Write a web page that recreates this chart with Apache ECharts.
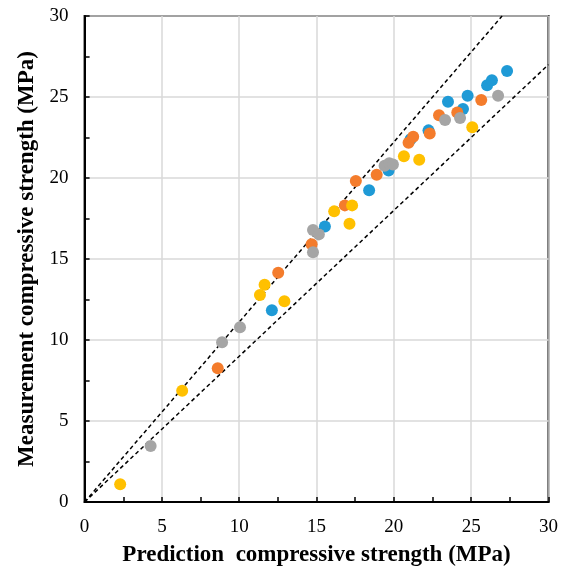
<!DOCTYPE html>
<html>
<head>
<meta charset="utf-8">
<script src="https://cdn.jsdelivr.net/npm/echarts@6/dist/echarts.min.js"></script>
<style>
html,body{margin:0;padding:0;background:#fff;}
#chart{width:561px;height:574px;}
</style>
</head>
<body>
<div id="chart"></div>
<script>
// Data (prediction, measurement) per series
const seriesBlue = [[12.11,11.83],[15.54,17.0],[18.40,19.24],[19.66,20.47],[21.08,22.39],[22.24,22.94],[23.50,24.71],[24.47,24.26],[24.77,25.08],[26.03,25.72],[26.34,26.03],[27.32,26.60]];
const seriesOrange = [[8.61,8.25],[12.52,14.15],[14.68,15.91],[16.83,18.31],[17.54,19.81],[18.89,20.20],[20.95,22.18],[21.25,22.55],[22.32,22.74],[22.92,23.87],[24.10,24.05],[25.65,24.81]];
const seriesGray = [[4.27,3.46],[8.89,9.86],[10.05,10.78],[14.77,15.41],[14.77,16.79],[15.15,16.52],[19.40,20.76],[19.70,20.91],[19.94,20.84],[23.31,23.58],[24.28,23.70],[26.74,25.08]];
const seriesYellow = [[2.30,1.09],[6.31,6.87],[11.34,12.78],[11.64,13.41],[12.92,12.39],[16.14,17.94],[17.13,17.18],[17.30,18.31],[20.65,21.34],[21.64,21.13],[25.07,23.13]];
const upperBound = [[0,0],[27,30]];
const lowerBound = [[0,0],[30,27]];
const xTitle = 'Prediction  compressive strength (MPa)';
const yTitle = 'Measurement compressive strength (MPa)';

const chart = echarts.init(document.getElementById('chart'), null, {renderer:'canvas'});
const font = '"Liberation Serif", "Times New Roman", serif';
const axisCommon = {
  min: 0, max: 30, interval: 5,
  axisLine: {show: true, onZero: false, lineStyle: {color: '#000', width: 2}},
  axisTick: {show: true, inside: true, length: 5, lineStyle: {color: '#000', width: 1.5}},
  minorTick: {show: true, splitNumber: 2, length: 5, lineStyle: {color: '#000', width: 1.5}},
  splitLine: {show: true, lineStyle: {color: '#d9d9d9', width: 1.5}},
  axisLabel: {color: '#000', fontFamily: font, fontSize: 19},
  nameLocation: 'middle',
  nameTextStyle: {color: '#000', fontFamily: font, fontSize: 23, fontWeight: 'bold'}
};
const dotSeries = (data, color) => ({
  type: 'scatter', data: data, symbol: 'circle', symbolSize: 12,
  itemStyle: {color: color, opacity: 1}, z: 4
});
const refSeries = (data) => ({
  type: 'line', data: data, symbol: 'none', silent: true, z: 3,
  lineStyle: {color: '#000', width: 1.5, type: [4, 3]}
});
chart.setOption({
  animation: false,
  backgroundColor: '#fff',
  grid: {left: 84.6, right: 10.4, top: 16, bottom: 72, show: true, borderColor: '#000', borderWidth: 2, backgroundColor: 'transparent'},
  xAxis: Object.assign({}, axisCommon, {type: 'value', name: xTitle, nameGap: 42,
    axisLabel: Object.assign({}, axisCommon.axisLabel, {margin: 16})}),
  yAxis: Object.assign({}, axisCommon, {type: 'value', name: yTitle, nameGap: 44,
    axisLabel: Object.assign({}, axisCommon.axisLabel, {margin: 16})}),
  series: [
    refSeries(upperBound),
    refSeries(lowerBound),
    dotSeries(seriesBlue, '#1f9ad6'),
    dotSeries(seriesOrange, '#f47c2c'),
    dotSeries(seriesGray, '#a5a5a5'),
    dotSeries(seriesYellow, '#ffc000')
  ]
});
</script>
</body>
</html>
